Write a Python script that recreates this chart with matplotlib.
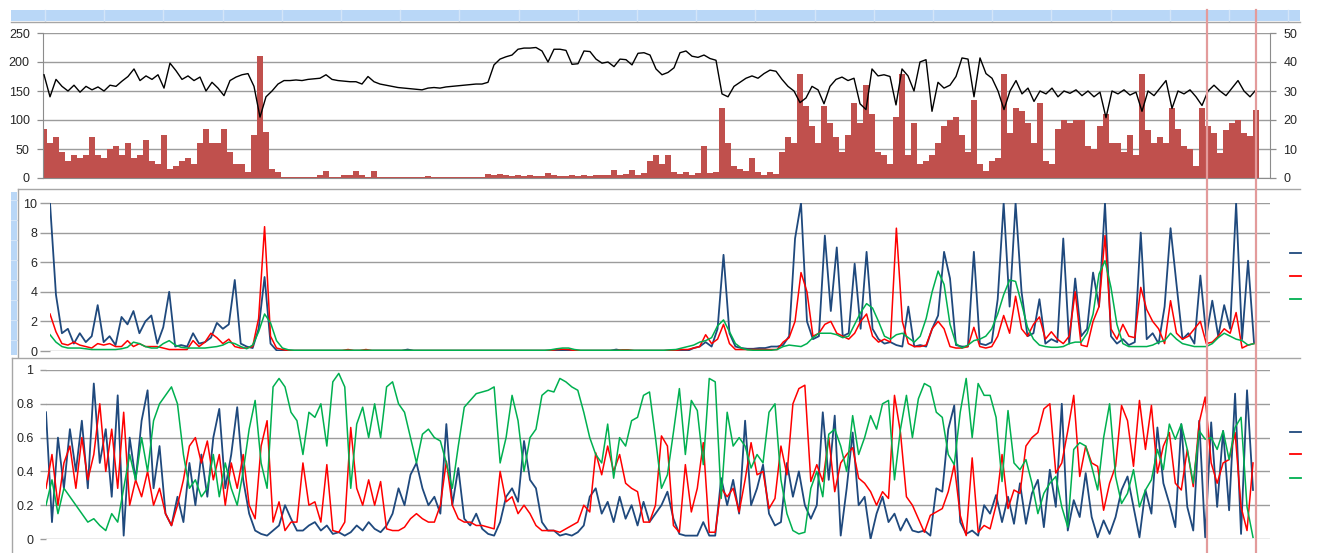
import numpy as np
import matplotlib
matplotlib.use("Agg")
import matplotlib.pyplot as plt
from matplotlib.patches import Rectangle

# ---------------- data ----------------
# Panel 1: black line (left axis, 0-250) and red bars (right axis, 0-50)
price = [178,140,170,158,150,160,148,158,152,157,
         150,160,158,167,175,188,168,176,170,178,
         155,198,185,170,176,168,174,150,165,155,
         142,168,174,178,180,158,105,140,150,162,
         168,168,169,168,170,171,172,178,170,168,
         167,166,166,162,175,166,162,160,158,156,
         155,154,153,152,155,156,155,157,158,159,
         160,161,162,162,165,195,205,209,212,222,
         224,224,225,219,200,222,222,220,196,197,
         219,218,205,198,200,192,205,204,195,215,
         216,212,188,178,182,190,216,219,210,208,
         212,206,203,145,140,158,165,172,176,172,
         180,186,184,170,158,150,130,138,158,152,
         128,158,170,174,168,172,128,118,188,176,
         178,175,126,188,176,150,200,204,115,165,
         155,160,175,207,205,140,207,180,172,150,
         118,150,168,145,155,132,150,145,155,140,
         150,146,152,142,150,140,148,104,150,145,
         152,143,148,115,150,142,155,168,120,150,
         145,152,140,125,150,160,150,142,155,168,
         150,140,152]

volume = [17,12,14,9,6,8,7,8,14,8,
          7,10,11,8,12,7,8,13,6,5,
          15,3,4,6,7,5,12,17,12,12,
          17,9,5,5,2,15,42,16,3,2,
          0.5,0.3,0.3,0.3,0.3,0.3,1,2.4,0.3,0.3,
          1,1.2,2.4,1,0.3,2.4,0.3,0.3,0.3,0.3,
          0.3,0.3,0.3,0.3,0.6,0.3,0.3,0.3,0.3,0.3,
          0.3,0.3,0.3,0.3,1.4,1.2,1.4,1,0.8,1,
          0.8,1,0.8,0.6,1.8,1,0.6,0.8,1,0.8,
          1,0.8,1.2,1.2,1,2.8,1.2,1.4,2.8,1.2,
          1.6,6,8,5,8,2,1.5,2,1.2,1.8,
          11,1.8,2,24,12,4,3,2.5,7,2,
          1,2,1.5,9,14,12,36,25,18,12,
          25,19,14,9,15,26,19,32,22,9,
          8,5,21,36,8,19,5,6,8,12,
          18,20,21,15,9,27,5,2.4,6,7,
          36,15.5,24,23,19,12,26,6,5,17,
          20,19,20,20,11,10,18,22,12,12,
          9,15,8,36,16.7,12,14,12,24,17,
          11,10,4,24,18,15.5,8.6,16.7,19,20,
          15.5,14.4,23.6]

# Panel 2: three series, 0-10
p2_blue = [10,3.8,1.2,1.5,0.5,1.2,0.6,1.0,3.1,0.6,
           1.0,0.4,2.3,1.8,2.7,1.2,2.0,2.4,0.5,1.6,
           4.0,0.3,0.4,0.3,1.2,0.5,0.6,0.9,1.9,1.5,
           1.8,4.8,0.5,0.3,0.2,1.5,5.0,0.5,0.05,0.02,
           0.02,0.02,0.02,0.02,0.02,0.02,0.02,0.02,0.02,0.02,
           0.02,0.02,0.02,0.02,0.02,0.02,0.02,0.02,0.02,0.02,
           0.1,0.02,0.02,0.02,0.02,0.02,0.02,0.02,0.02,0.02,
           0.02,0.02,0.02,0.02,0.02,0.02,0.02,0.02,0.02,0.02,
           0.02,0.02,0.02,0.02,0.02,0.02,0.02,0.02,0.02,0.02,
           0.02,0.02,0.02,0.02,0.02,0.1,0.02,0.02,0.02,0.02,
           0.02,0.02,0.02,0.02,0.02,0.02,0.02,0.02,0.2,0.3,
           0.6,0.3,1.5,6.5,1.2,0.3,0.2,0.15,0.15,0.2,
           0.2,0.3,0.3,0.4,1.0,7.6,10,2.0,0.8,1.0,
           7.8,2.7,7.0,1.0,1.2,5.9,1.5,6.7,1.5,0.8,
           0.5,0.6,0.4,0.3,3.0,0.3,0.4,0.3,1.5,2.4,
           6.7,4.9,0.4,0.3,0.3,6.7,0.5,0.4,0.6,3.5,
           10,3.0,10,4.0,1.0,1.2,3.5,0.5,0.8,0.6,
           7.6,0.5,4.9,1.0,1.5,5.3,3.0,10,1.0,0.5,
           0.8,0.4,0.6,8.0,0.8,1.2,0.5,3.0,8.3,4.5,
           0.8,1.2,0.5,5.1,1.0,3.4,1.0,3.1,1.5,10,
           0.8,6.1,0.6]

p2_red = [2.5,1.3,0.5,0.4,0.6,0.4,0.3,0.2,0.5,0.4,
          0.5,0.3,0.3,0.7,0.3,0.5,0.3,0.3,0.3,0.2,
          0.1,0.1,0.1,0.1,0.7,0.3,0.6,1.2,0.9,0.5,
          0.8,0.3,0.2,0.2,0.3,2.2,8.4,1.0,0.2,0.1,
          0.03,0.03,0.03,0.03,0.03,0.03,0.03,0.03,0.03,0.03,
          0.1,0.03,0.03,0.1,0.03,0.03,0.03,0.03,0.03,0.03,
          0.03,0.03,0.03,0.03,0.03,0.03,0.03,0.03,0.03,0.03,
          0.03,0.03,0.03,0.03,0.03,0.03,0.03,0.03,0.03,0.03,
          0.03,0.03,0.03,0.03,0.03,0.1,0.12,0.1,0.03,0.03,
          0.03,0.03,0.03,0.03,0.03,0.03,0.08,0.08,0.03,0.03,
          0.03,0.03,0.03,0.03,0.05,0.05,0.1,0.1,0.2,0.3,
          1.1,0.5,0.8,1.8,0.5,0.1,0.1,0.1,0.1,0.1,
          0.1,0.1,0.1,0.6,0.9,2.0,5.3,4.0,1.0,1.2,
          1.8,2.0,1.2,1.0,0.8,1.2,2.0,2.5,1.0,0.6,
          0.8,0.6,8.3,2.0,0.5,0.3,0.3,0.4,1.5,2.0,
          1.5,0.3,0.2,0.2,0.3,1.6,0.3,0.2,0.3,1.0,
          2.4,1.2,3.7,1.5,1.0,1.8,2.3,0.8,1.3,0.8,
          0.5,1.0,4.0,0.4,0.3,2.0,3.0,7.8,1.5,0.8,
          1.8,1.0,0.9,4.3,2.8,2.0,1.5,0.5,3.4,1.2,
          0.8,1.0,1.5,2.0,0.5,0.6,1.0,1.5,1.2,2.6,
          0.2,0.4,0.5]

p2_green = [1.1,0.6,0.3,0.2,0.2,0.2,0.15,0.1,0.1,0.1,
            0.1,0.1,0.15,0.25,0.6,0.5,0.3,0.2,0.2,0.5,
            0.7,0.4,0.25,0.2,0.2,0.2,0.2,0.25,0.3,0.4,
            0.6,0.5,0.3,0.15,0.4,1.3,2.5,1.9,0.7,0.2,
            0.08,0.05,0.05,0.05,0.05,0.05,0.05,0.05,0.05,0.05,
            0.05,0.05,0.05,0.05,0.05,0.05,0.05,0.05,0.05,0.05,
            0.05,0.05,0.05,0.05,0.05,0.05,0.05,0.05,0.05,0.05,
            0.05,0.05,0.05,0.05,0.05,0.05,0.05,0.05,0.05,0.05,
            0.05,0.05,0.05,0.05,0.08,0.15,0.2,0.2,0.1,0.05,
            0.05,0.05,0.05,0.05,0.05,0.05,0.05,0.05,0.05,0.05,
            0.05,0.05,0.05,0.05,0.08,0.1,0.2,0.3,0.4,0.6,
            0.7,0.9,1.7,2.1,1.3,0.5,0.2,0.08,0.05,0.05,
            0.05,0.05,0.1,0.3,0.4,0.35,0.3,0.5,0.9,1.2,
            1.2,1.2,1.1,0.9,1.0,1.8,2.6,3.2,2.9,2.0,
            1.0,0.8,1.1,1.2,0.9,0.6,1.0,2.2,4.0,5.4,
            4.5,1.8,0.5,0.2,0.4,0.7,0.8,1.0,1.5,2.5,
            3.8,4.8,4.7,3.2,1.6,0.8,0.4,0.3,0.25,0.25,
            0.3,0.5,0.6,0.6,1.2,2.5,5.2,6.1,4.3,1.8,
            0.5,0.3,0.3,0.3,0.3,0.4,0.6,0.7,1.2,0.8,
            0.5,0.4,0.3,0.3,0.3,0.5,0.9,1.2,1.0,0.8,
            0.7,0.4,0.5]

# Panel 3: three series, 0-1
p3_blue = [0.75,0.1,0.6,0.3,0.65,0.4,0.7,0.3,0.92,0.45,
           0.65,0.25,0.85,0.02,0.6,0.35,0.7,0.88,0.3,0.55,
           0.15,0.08,0.25,0.1,0.45,0.2,0.5,0.25,0.6,0.77,
           0.3,0.5,0.78,0.35,0.15,0.05,0.03,0.02,0.05,0.08,
           0.2,0.12,0.05,0.05,0.08,0.1,0.05,0.08,0.03,0.04,
           0.02,0.04,0.08,0.05,0.1,0.06,0.04,0.08,0.15,0.3,
           0.2,0.38,0.45,0.3,0.2,0.25,0.15,0.68,0.2,0.42,
           0.12,0.08,0.15,0.06,0.03,0.02,0.1,0.25,0.3,0.22,
           0.58,0.35,0.3,0.1,0.05,0.05,0.02,0.03,0.02,0.04,
           0.08,0.25,0.3,0.15,0.22,0.1,0.25,0.12,0.2,0.08,
           0.22,0.1,0.15,0.2,0.28,0.12,0.03,0.02,0.02,0.02,
           0.1,0.02,0.02,0.36,0.2,0.35,0.15,0.7,0.2,0.3,
           0.44,0.15,0.08,0.1,0.45,0.25,0.4,0.2,0.12,0.2,
           0.75,0.35,0.73,0.02,0.3,0.63,0.2,0.25,0.0,0.15,
           0.25,0.1,0.15,0.05,0.12,0.05,0.04,0.05,0.02,0.3,
           0.28,0.65,0.79,0.1,0.03,0.05,0.02,0.2,0.15,0.26,
           0.1,0.25,0.09,0.33,0.09,0.27,0.35,0.07,0.41,0.19,
           0.8,0.05,0.23,0.13,0.39,0.13,0.01,0.11,0.03,0.13,
           0.29,0.37,0.19,0.01,0.29,0.15,0.66,0.33,0.21,0.07,
           0.68,0.19,0.05,0.7,0.01,0.69,0.19,0.64,0.17,0.86,
           0.03,0.88,0.29]

p3_red = [0.3,0.5,0.2,0.45,0.55,0.3,0.6,0.35,0.5,0.8,
          0.4,0.65,0.3,0.75,0.2,0.35,0.25,0.4,0.2,0.3,
          0.15,0.08,0.2,0.35,0.55,0.6,0.45,0.58,0.35,0.5,
          0.2,0.45,0.3,0.5,0.2,0.12,0.55,0.7,0.1,0.22,
          0.05,0.1,0.1,0.45,0.2,0.22,0.1,0.44,0.05,0.04,
          0.1,0.66,0.3,0.2,0.35,0.2,0.34,0.06,0.05,0.05,
          0.07,0.12,0.15,0.12,0.1,0.1,0.2,0.46,0.2,0.12,
          0.1,0.1,0.08,0.08,0.07,0.06,0.4,0.22,0.25,0.15,
          0.2,0.15,0.08,0.05,0.05,0.05,0.04,0.06,0.08,0.1,
          0.2,0.16,0.51,0.38,0.55,0.4,0.5,0.33,0.3,0.28,
          0.1,0.1,0.2,0.61,0.55,0.08,0.04,0.44,0.16,0.3,
          0.57,0.04,0.04,0.3,0.25,0.3,0.16,0.35,0.57,0.38,
          0.4,0.18,0.24,0.55,0.38,0.8,0.89,0.91,0.34,0.44,
          0.34,0.6,0.28,0.45,0.5,0.54,0.36,0.33,0.28,0.2,
          0.28,0.24,0.85,0.63,0.25,0.2,0.12,0.04,0.14,0.16,
          0.18,0.28,0.44,0.14,0.02,0.48,0.04,0.08,0.06,0.2,
          0.5,0.18,0.29,0.27,0.55,0.6,0.63,0.77,0.8,0.39,
          0.45,0.64,0.85,0.37,0.55,0.45,0.43,0.17,0.33,0.43,
          0.79,0.7,0.43,0.82,0.53,0.79,0.39,0.55,0.63,0.33,
          0.29,0.53,0.31,0.69,0.84,0.45,0.33,0.45,0.47,0.63,
          0.19,0.05,0.45]

p3_green = [0.2,0.35,0.15,0.3,0.25,0.2,0.15,0.1,0.12,0.08,
            0.05,0.15,0.1,0.3,0.5,0.35,0.6,0.4,0.7,0.8,
            0.85,0.9,0.8,0.5,0.3,0.35,0.25,0.3,0.5,0.25,
            0.45,0.3,0.2,0.4,0.65,0.82,0.45,0.3,0.9,0.95,
            0.9,0.75,0.7,0.5,0.75,0.72,0.8,0.55,0.93,0.98,
            0.9,0.3,0.68,0.78,0.6,0.8,0.6,0.9,0.93,0.8,
            0.75,0.6,0.45,0.62,0.65,0.6,0.58,0.45,0.3,0.55,
            0.78,0.82,0.86,0.87,0.88,0.9,0.45,0.6,0.85,0.7,
            0.4,0.6,0.65,0.85,0.88,0.87,0.95,0.93,0.9,0.88,
            0.75,0.6,0.5,0.45,0.68,0.36,0.6,0.55,0.7,0.72,
            0.85,0.87,0.6,0.3,0.38,0.63,0.89,0.5,0.82,0.76,
            0.44,0.95,0.93,0.24,0.75,0.55,0.6,0.55,0.42,0.5,
            0.45,0.75,0.8,0.35,0.15,0.05,0.03,0.04,0.3,0.4,
            0.25,0.62,0.65,0.55,0.4,0.73,0.5,0.6,0.73,0.65,
            0.8,0.82,0.35,0.65,0.85,0.6,0.83,0.92,0.9,0.75,
            0.72,0.5,0.44,0.75,0.95,0.6,0.92,0.85,0.85,0.72,
            0.34,0.76,0.45,0.41,0.47,0.33,0.15,0.27,0.33,0.37,
            0.19,0.07,0.53,0.57,0.55,0.43,0.29,0.6,0.8,0.37,
            0.21,0.27,0.41,0.19,0.29,0.35,0.53,0.41,0.68,0.59,
            0.68,0.53,0.33,0.64,0.59,0.6,0.53,0.64,0.47,0.66,
            0.72,0.19,0.01]

left1_ticks = [0, 50, 100, 150, 200, 250]
right1_ticks = [0, 10, 20, 30, 40, 50]
p2_ticks = [0, 2, 4, 6, 8, 10]
p3_ticks = [0, 0.2, 0.4, 0.6, 0.8, 1]
p3_labels = ["0", "0.2", "0.4", "0.6", "0.8", "1"]

# ---------------- styling ----------------
W, H = 1323, 553
BLUE = "#1F497D"
RED = "#FF0000"
GREEN = "#00B050"
BAR = "#C0504D"
GRID = "#9C9C9C"
AXC = "#8C8C8C"
TXT = "#262626"
FONT = "Liberation Sans"
FS = 9

plt.rcParams["font.family"] = FONT

fig = plt.figure(figsize=(W / 100, H / 100), dpi=100)
fig.patch.set_facecolor("white")


def axes_at(L, R, T, B, **kw):
    return fig.add_axes([L / W, 1 - B / H, (R - L) / W, (B - T) / H], **kw)


def set_x_px(ax, L, R, S, E, n):
    s = (E - S) / (n - 1)
    ax.set_xlim((L - S) / s, (R - S) / s)


def clean(ax):
    for sp in ax.spines.values():
        sp.set_visible(False)
    ax.set_xticks([])


# ---- Panel 1 ----
n1 = len(price)
x1 = np.arange(n1)
ax1r = axes_at(43, 1270, 33, 178)
ax1 = ax1r.twinx()
# swap roles: ax1r carries bars (right axis) and grid; ax1 carries line on top
ax1r.yaxis.tick_right()
ax1r.yaxis.set_label_position("right")
ax1.yaxis.tick_left()
ax1.yaxis.set_label_position("left")

ax1r.bar(x1, volume, width=0.92, color=BAR, linewidth=0, zorder=2)
ax1r.set_ylim(0, 50)
ax1r.set_yticks(right1_ticks)
ax1r.grid(axis="y", color=GRID, linewidth=1.0, zorder=0)
ax1r.set_axisbelow(True)
clean(ax1r)
ax1r.spines["right"].set_visible(True)
ax1r.spines["right"].set_color(AXC)
ax1r.spines["bottom"].set_visible(True)
ax1r.spines["bottom"].set_color(AXC)
ax1r.tick_params(axis="y", direction="out", length=4.5, width=0.9, color=AXC,
                 labelsize=FS, labelcolor=TXT, pad=5)

ax1.plot(x1, price, color="black", linewidth=1.0, zorder=3)
ax1.set_ylim(0, 250)
ax1.set_yticks(left1_ticks)
clean(ax1)
ax1.spines["left"].set_visible(True)
ax1.spines["left"].set_color(AXC)
ax1.tick_params(axis="y", direction="out", length=4.5, width=0.9, color=AXC,
                labelsize=FS, labelcolor=TXT, pad=5)
set_x_px(ax1r, 43, 1270, 44, 1256, n1)
set_x_px(ax1, 43, 1270, 44, 1256, n1)

# ---- Panel 2 ----
n2 = len(p2_blue)
x2 = np.arange(n2)
ax2 = axes_at(50, 1270, 203, 351)
ax2.plot(x2, p2_blue, color=BLUE, linewidth=1.3, zorder=3)
ax2.plot(x2, p2_red, color=RED, linewidth=1.1, zorder=4)
ax2.plot(x2, p2_green, color=GREEN, linewidth=1.1, zorder=5)
ax2.set_ylim(0, 10)
ax2.set_yticks(p2_ticks)
ax2.grid(axis="y", color=GRID, linewidth=1.0, zorder=0)
ax2.set_axisbelow(True)
clean(ax2)
ax2.tick_params(axis="y", direction="out", length=7, width=1.0, color=GRID,
                labelsize=FS, labelcolor=TXT, pad=2)
set_x_px(ax2, 50, 1270, 50, 1254, n2)

# ---- Panel 3 ----
n3 = len(p3_blue)
x3 = np.arange(n3)
ax3 = axes_at(46, 1270, 370, 539)
ax3.plot(x3, p3_blue, color=BLUE, linewidth=1.3, zorder=3)
ax3.plot(x3, p3_red, color=RED, linewidth=1.1, zorder=4)
ax3.plot(x3, p3_green, color=GREEN, linewidth=1.1, zorder=5)
ax3.set_ylim(0, 1)
ax3.set_yticks(p3_ticks)
ax3.set_yticklabels(p3_labels)
ax3.grid(axis="y", color=GRID, linewidth=1.0, zorder=0)
ax3.set_axisbelow(True)
clean(ax3)
ax3.tick_params(axis="y", direction="out", length=4, width=1.0, color=GRID,
                labelsize=FS, labelcolor=TXT, pad=5)
set_x_px(ax3, 46, 1270, 46, 1253, n3)

# ---------------- sheet decorations (pixel overlay) ----------------
deco = fig.add_axes([0, 0, 1, 1], zorder=10)
deco.set_xlim(0, W)
deco.set_ylim(H, 0)
deco.axis("off")
deco.patch.set_visible(False)

STRIP = "#B9D7F7"
SEP = "#D3E5F8"
deco.add_patch(Rectangle((11, 10), 1289, 11, facecolor=STRIP, edgecolor="none"))
for xs in np.arange(45, 1300, 59.2):
    deco.plot([xs, xs], [10, 21], color=SEP, linewidth=1.0)
deco.add_patch(Rectangle((11, 192), 6, 163, facecolor=STRIP, edgecolor="none"))
for ys in np.arange(200, 355, 20):
    deco.plot([11, 17], [ys, ys], color=SEP, linewidth=0.8)

BORDER = "#A6A6A6"
deco.plot([11, 1300], [21.5, 21.5], color=BORDER, linewidth=1.0)
deco.plot([18, 1300], [188.5, 188.5], color=BORDER, linewidth=1.0)
deco.plot([18, 18], [188.5, 357], color=BORDER, linewidth=1.0)
deco.plot([12, 1300], [357.5, 357.5], color=BORDER, linewidth=1.0)
deco.plot([12, 12], [357.5, 553], color=BORDER, linewidth=1.0)

# legend keys (text cut off in the original)
for y, c in [(253, BLUE), (276, RED), (299, GREEN)]:
    deco.plot([1290, 1301], [y, y], color=c, linewidth=1.3)
for y, c in [(432, BLUE), (454, RED), (478, GREEN)]:
    deco.plot([1290, 1301], [y, y], color=c, linewidth=1.3)

# pink selection lines
for xp in (1206.5, 1255.5):
    deco.plot([xp, xp], [10, 553], color="#E39B9B", linewidth=1.6)

fig.savefig("out.png", dpi=100, facecolor="white")
